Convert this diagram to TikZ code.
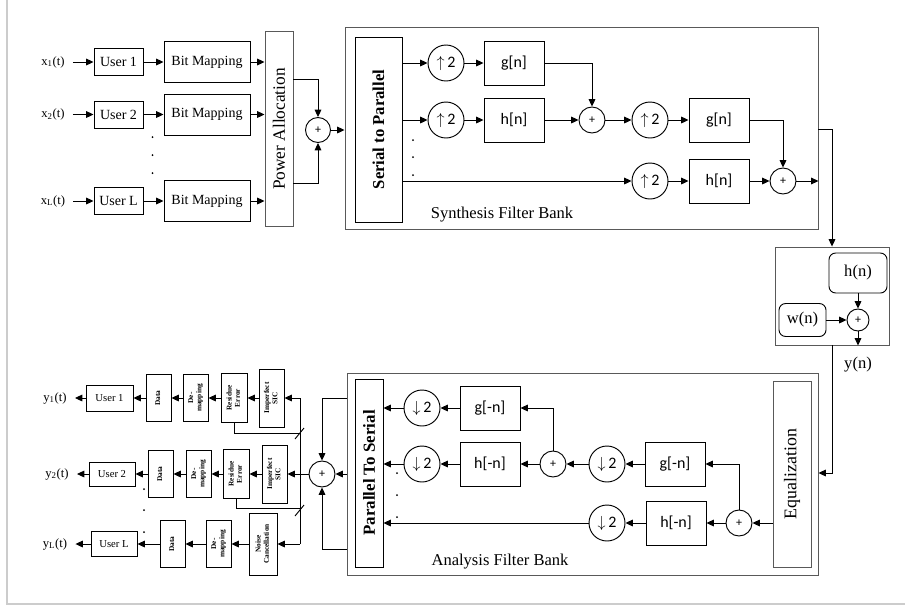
\documentclass[tikz,border=0pt]{standalone}
\usepackage{fontspec}
\setmainfont{Liberation Serif}
\newfontfamily\calib{Carlito}
\usepackage{graphicx}
\usetikzlibrary{arrows.meta}
\newcommand{\vtext}[1]{\rotatebox{90}{\begin{tabular}{@{}c@{}}#1\end{tabular}}}

\begin{document}
\begin{tikzpicture}[x=0.75pt, y=-0.75pt,
    blk/.style 2 args={draw, minimum width=#1*0.75pt, minimum height=#2*0.75pt,
                       inner sep=0pt, line width=0.7pt},
    grp/.style 2 args={blk={#1}{#2}, draw=black!65},
    rbox/.style 2 args={blk={#1}{#2}, rounded corners=5pt},
    flt/.style={blk={60}{44}, font=\calib\fontsize{12}{14}\selectfont},
    smp/.style={circle, draw, minimum size=36*0.75pt, inner sep=0pt,
                line width=0.7pt, font=\calib\fontsize{12}{14}\selectfont},
    sum/.style={circle, draw, minimum size=#1*0.75pt, inner sep=0pt,
                line width=0.7pt, font=\calib\fontsize{9}{10}\selectfont},
    sum/.default=26,
    arr/.style={-{Triangle[length=5.5pt,width=5pt]}, line width=0.7pt},
    ln/.style={line width=0.7pt},
    tx/.style={font=\fontsize{10.5}{12}\selectfont},
    xl/.style={font=\fontsize{9.5}{11}\selectfont, inner sep=6pt},
    lab/.style={font=\fontsize{12.4}{14}\selectfont},
    rx/.style={font=\bfseries\fontsize{5.5}{6.2}\selectfont},
    rxu/.style={font=\fontsize{8}{9}\selectfont}
  ]
    \useasboundingbox (0,0) rectangle (905,608);
    \draw[gray!40, line width=1pt] (7,0) -- (7,604) -- (905,604);

    % transmitter side
    \node[xl] (x1) at (53,62) {x\textsubscript{1}(t)};
    \node[xl] (x2) at (53,114.5) {x\textsubscript{2}(t)};
    \node[xl] (xL) at (53,201) {x\textsubscript{L}(t)};
    \node[blk={49}{27}, tx] (u1) at (118.5,62) {User 1};
    \node[blk={49}{27}, tx] (u2) at (118.5,114.5) {User 2};
    \node[blk={49}{27}, tx] (uL) at (118.5,201) {User L};
    \node[blk={86}{41}, tx] (bm1) at (207,62) {Bit Mapping};
    \node[blk={86}{41}, tx] (bm2) at (207,114.5) {Bit Mapping};
    \node[blk={86}{41}, tx] (bmL) at (207,201) {Bit Mapping};
    \node[grp={28}{195}, font=\fontsize{13}{15}\selectfont] (pa) at (279,129)
      {\rotatebox{90}{Power Allocation}};
    \node[sum={25}] (add1) at (318,130) {+};
    \foreach \y in {137,155,173} \fill (152.5,\y) circle (1);

    \draw[arr] (x1) -- (u1);
    \draw[arr] (x2) -- (u2);
    \draw[arr] (xL) -- (uL);
    \draw[arr] (u1) -- (bm1);
    \draw[arr] (u2) -- (bm2);
    \draw[arr] (uL) -- (bmL);
    \draw[arr] (bm1) -- (pa.west |- bm1);
    \draw[arr] (bm2) -- (pa.west |- bm2);
    \draw[arr] (bmL) -- (pa.west |- bmL);
    \draw[arr] (pa.east |- 0,79) -| (add1);
    \draw[arr] (pa.east |- 0,183) -| (add1);

    % synthesis filter bank
    \node[grp={473}{202}] (syn) at (581.5,128) {};
    \node[blk={47}{185}, font=\bfseries\fontsize{12.5}{14}\selectfont] (sp) at (378.5,129.5)
      {\rotatebox{90}{Serial to Parallel}};
    \node[smp] (up1) at (446,63) {$\uparrow$\,2};
    \node[flt] (g1) at (514,63) {g[n]};
    \node[smp] (up2) at (446,120) {$\uparrow$\,2};
    \node[flt] (h1) at (514,120) {h[n]};
    \node[sum] (sa1) at (592,120) {+};
    \node[smp] (up3) at (650,120) {$\uparrow$\,2};
    \node[flt] (g2) at (719,120) {g[n]};
    \node[smp] (up4) at (650,181) {$\uparrow$\,2};
    \node[flt] (h2) at (719,181) {h[n]};
    \node[sum] (sa2) at (783,181) {+};
    \node[lab] (synlab) at (502,215) {Synthesis Filter Bank};
    \foreach \y in {140,157,175} \fill (413,\y) circle (1);

    \draw[arr] (add1) -- (syn.west |- add1);
    \draw[arr] (sp.east |- up1) -- (up1);
    \draw[arr] (up1) -- (g1);
    \draw[arr] (sp.east |- up2) -- (up2);
    \draw[arr] (up2) -- (h1);
    \draw[arr] (h1) -- (sa1);
    \draw[arr] (g1) -| (sa1);
    \draw[arr] (sa1) -- (up3);
    \draw[arr] (up3) -- (g2);
    \draw[arr] (g2) -| (sa2);
    \draw[arr] (sp.east |- up4) -- (up4);
    \draw[arr] (up4) -- (h2);
    \draw[arr] (h2) -- (sa2);
    \draw[arr] (sa2) -- (syn.east |- sa2);

    % channel
    \node[grp={114}{98}] (ch) at (832,296) {};
    \node[rbox={58}{40}, lab] (hn) at (858,273) {h(n)};
    \node[rbox={47}{33}, lab] (wn) at (802.5,320) {w(n)};
    \node[sum={22}] (sa3) at (858,320) {+};
    \node[lab] (yn) at (858,365) {y(n)};

    \draw[arr] (syn.east |- 0,129) -| (ch.north);
    \draw[arr] (hn) -- (sa3);
    \draw[arr] (wn) -- (sa3);
    \draw[arr] (sa3) -- (sa3 |- ch.south);

    % analysis filter bank
    \node[grp={471}{202}] (ana) at (582.5,474) {};
    \node[blk={28}{188}, font=\bfseries\fontsize{12.7}{14}\selectfont] (ps) at (369,473)
      {\rotatebox{90}{Parallel To Serial}};
    \node[grp={38}{186}, font=\fontsize{13.4}{15}\selectfont] (eq) at (792,474)
      {\rotatebox{90}{Equalization}};
    \node[smp] (dn1) at (422,408) {$\downarrow$\,2};
    \node[flt] (gm1) at (490,408) {g[-n]};
    \node[smp] (dn2) at (422,464) {$\downarrow$\,2};
    \node[flt] (hm1) at (490,464) {h[-n]};
    \node[sum] (sa4) at (553,464) {+};
    \node[smp] (dn3) at (607,464) {$\downarrow$\,2};
    \node[flt] (gm2) at (675,464) {g[-n]};
    \node[smp] (dn4) at (607,523) {$\downarrow$\,2};
    \node[flt] (hm2) at (676,523) {h[-n]};
    \node[sum] (sa5) at (739,523) {+};
    \node[lab] (analab) at (500,562) {Analysis Filter Bank};
    \foreach \y in {473,495,517} \fill (397,\y) circle (1);

    \draw[arr] (ch.south) |- (ana.east |- 0,473);
    \draw[arr] (eq.west |- sa5) -- (sa5);
    \draw[arr] (sa5) -- (hm2);
    \draw[arr] (hm2) -- (dn4);
    \draw[arr] (dn4) -- (ps.east |- dn4);
    \draw[arr] (sa5) |- (gm2);
    \draw[arr] (gm2) -- (dn3);
    \draw[arr] (dn3) -- (sa4);
    \draw[arr] (sa4) -- (hm1);
    \draw[arr] (hm1) -- (dn2);
    \draw[arr] (dn2) -- (ps.east |- dn2);
    \draw[arr] (sa4) |- (gm1);
    \draw[arr] (gm1) -- (dn1);
    \draw[arr] (dn1) -- (ps.east |- dn1);

    % receiver side
    \node[sum] (sa6) at (322,474) {+};
    \coordinate (bt) at (300,398);
    \coordinate (bb) at (300,544);
    \coordinate (fb1) at (300,433);
    \coordinate (fb2) at (300,508);

    \node[blk={25}{58}, rx] (isic1) at (271.5,398) {\vtext{Imperfect\\SIC}};
    \node[blk={26}{49}, rx] (re1) at (234,398) {\vtext{Residue\\Error}};
    \node[blk={25}{47}, rx] (dm1) at (195.5,398) {\vtext{De-\\mapping}};
    \node[blk={25}{47}, rx] (da1) at (158.5,398) {\vtext{Data}};
    \node[blk={47}{26}, rxu] (us1) at (109.5,398) {User 1};
    \node[xl] (y1) at (55,398) {y\textsubscript{1}(t)};

    \node[blk={25}{58}, rx] (isic2) at (274.5,474) {\vtext{Imperfect\\SIC}};
    \node[blk={26}{49}, rx] (re2) at (236,474) {\vtext{Residue\\Error}};
    \node[blk={25}{47}, rx] (dm2) at (198.5,474) {\vtext{De-\\mapping}};
    \node[blk={25}{47}, rx] (da2) at (160.5,474) {\vtext{Data}};
    \node[blk={46}{24}, rxu] (us2) at (112,474) {User 2};
    \node[xl] (y2) at (57,474) {y\textsubscript{2}(t)};

    \node[blk={28}{62}, rx] (nc) at (263,544) {\vtext{Noise\\Cancellation}};
    \node[blk={25}{47}, rx] (dm3) at (218.5,544) {\vtext{De-\\mapping}};
    \node[blk={25}{47}, rx] (da3) at (172.5,544) {\vtext{Data}};
    \node[blk={46}{25}, rxu] (usL) at (114,544) {User L};
    \node[xl] (yL) at (55,544) {y\textsubscript{L}(t)};
    \foreach \y in {489,510,532} \fill (144,\y) circle (1);

    \draw[arr] (ana.west |- sa6) -- (sa6);
    \draw[arr] (ana.west |- 0,398) -| (sa6);
    \draw[arr] (ana.west |- 0,549) -| (sa6);
    \draw[ln] (bt) -- (bb);
    \draw[arr] (bt) -- (isic1);
    \draw[arr] (sa6) -- (isic2);
    \draw[arr] (bb) -- (nc);

    \draw[arr] (isic1) -- (re1);
    \draw[arr] (re1) -- (dm1);
    \draw[arr] (dm1) -- (da1);
    \draw[arr] (da1) -- (us1);
    \draw[arr] (us1) -- (y1);
    \draw[ln] (re1.south) |- (fb1);
    \draw[ln] (fb1) ++(-5,6) -- ++(9,-11);

    \draw[arr] (isic2) -- (re2);
    \draw[arr] (re2) -- (dm2);
    \draw[arr] (dm2) -- (da2);
    \draw[arr] (da2) -- (us2);
    \draw[arr] (us2) -- (y2);
    \draw[ln] (re2.south) |- (fb2);
    \draw[ln] (fb2) ++(-5,8) -- ++(9,-11);

    \draw[arr] (nc) -- (dm3);
    \draw[arr] (dm3) -- (da3);
    \draw[arr] (da3) -- (usL);
    \draw[arr] (usL) -- (yL);
  \end{tikzpicture}
\end{document}
